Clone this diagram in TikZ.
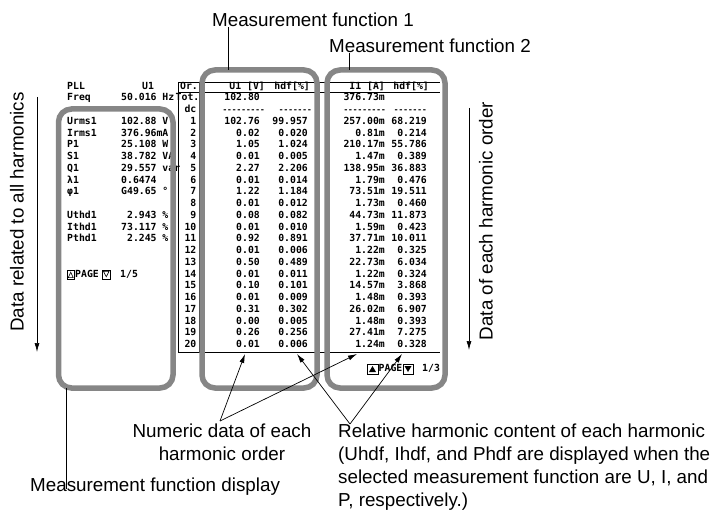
\documentclass[tikz,border=0pt]{standalone}
\usepackage{fontspec}
\setmainfont{Liberation Sans}
\newfontfamily\scrfont{DejaVu Sans Mono}
\usetikzlibrary{arrows.meta}
\definecolor{frame}{RGB}{134,134,134}

\begin{document}
\begin{tikzpicture}[x=1pt,y=-1pt,
  lbl/.style={font=\fontsize{18.8}{23}\selectfont,inner sep=0pt},
  scr/.style={font=\scrfont\bfseries\fontsize{9.8}{11}\selectfont,inner sep=0pt},
  dsh/.style={font=\scrfont\bfseries\fontsize{7.8}{9}\selectfont,inner sep=0pt},
  grp/.style={draw=frame,line width=5.5pt,rounded corners=13pt},
  grid/.style={line width=0.8pt},
  ptr/.style={-{Latex[length=9pt,width=5pt]},line width=0.7pt}]
\useasboundingbox (0,0) rectangle (717,513);

% labels on top
\node[lbl] (mf1) at (313,20) {Measurement function 1};
\node[lbl] (mf2) at (430,46) {Measurement function 2};

% left part of the screen
\node[scr,anchor=mid west] (pll) at (67,86.5) {PLL};
\node[scr,anchor=mid west] (pllsrc) at (142,86.5) {U1};
\node[scr,anchor=mid west] (freq) at (67,98.25) {Freq};
\node[scr,anchor=mid west] (freqv) at (121,98.25) {50.016 Hz};
\foreach \r/\nm/\v in {1/Urms1/102.88 V, 2/Irms1/376.96mA, 3/P1/25.108 W,
    4/S1/38.782 VA, 5/Q1/29.557 var, 6/λ1/0.6474, 7/φ1/G49.65 °,
    9/Uthd1/\phantom{0}2.943 \%, 10/Ithd1/73.117 \%, 11/Pthd1/\phantom{0}2.245 \%}{
  \pgfmathsetmacro\y{110+11.75*\r}
  \node[scr,anchor=mid west] (n\r) at (67,\y) {\nm};
  \node[scr,anchor=mid west] (v\r) at (121,\y) {\v};
}
% page keys, left
\draw[line width=0.6pt] (67,270) rectangle (74.5,279);
\draw[line width=0.6pt] (68.3,277.6) -- (70.75,272.2) -- (73.2,277.6) -- cycle;
\node[scr,anchor=mid west] (pg1) at (75,274.5) {PAGE};
\draw[line width=0.6pt] (102,270) rectangle (110.5,279);
\draw[line width=0.6pt] (103.5,271.4) -- (106.25,276.8) -- (109,271.4) -- cycle;
\node[scr,anchor=mid west] (pg1n) at (120,274.5) {1/5};

% table of harmonics
\draw[grid] (178,82) -- (440,82);
\draw[grid] (178,92.5) -- (440,92.5);
\draw[grid] (178,352) -- (440,352);
\draw[grid] (178,82) -- (178,352);
\draw[grid] (199,82) -- (199,352);
\node[scr,anchor=mid east] (or) at (198,87) {Or.};
\node[scr,anchor=mid east] (hu) at (265,87) {U1 [V]};
\node[scr,anchor=mid east] (huh) at (310,87) {hdf[\%]};
\node[scr,anchor=mid east] (hi) at (385,87) {I1 [A]};
\node[scr,anchor=mid east] (hih) at (429,87) {hdf[\%]};
\node[scr,anchor=mid east] (tot) at (199.5,98.25) {Tot.};
\node[scr,anchor=mid east] (totu) at (260,98.25) {102.80};
\node[scr,anchor=mid east] (toti) at (385,98.25) {376.73m};
\node[scr,anchor=mid east] (dc) at (196.5,110) {dc};
\node[dsh,anchor=mid east] (dcu) at (265,110) {---------};
\node[dsh,anchor=mid east] (dcuh) at (312,110) {-------};
\node[dsh,anchor=mid east] (dci) at (386,110) {---------};
\node[dsh,anchor=mid east] (dcih) at (427,110) {-------};
\foreach \n/\u/\uh/\i/\ih in {1/102.76/99.957/257.00m/68.219, 2/0.02/0.020/0.81m/0.214,
    3/1.05/1.024/210.17m/55.786, 4/0.01/0.005/1.47m/0.389, 5/2.27/2.206/138.95m/36.883,
    6/0.01/0.014/1.79m/0.476, 7/1.22/1.184/73.51m/19.511, 8/0.01/0.012/1.73m/0.460,
    9/0.08/0.082/44.73m/11.873, 10/0.01/0.010/1.59m/0.423, 11/0.92/0.891/37.71m/10.011,
    12/0.01/0.006/1.22m/0.325, 13/0.50/0.489/22.73m/6.034, 14/0.01/0.011/1.22m/0.324,
    15/0.10/0.101/14.57m/3.868, 16/0.01/0.009/1.48m/0.393, 17/0.31/0.302/26.02m/6.907,
    18/0.00/0.005/1.48m/0.393, 19/0.26/0.256/27.41m/7.275, 20/0.01/0.006/1.24m/0.328}{
  \pgfmathsetmacro\y{110+11.75*\n}
  \node[scr,anchor=mid east] (o\n) at (196.5,\y) {\n};
  \node[scr,anchor=mid east] (u\n) at (260,\y) {\u};
  \node[scr,anchor=mid east] (uh\n) at (308,\y) {\uh};
  \node[scr,anchor=mid east] (i\n) at (385,\y) {\i};
  \node[scr,anchor=mid east] (ih\n) at (427,\y) {\ih};
}
% page keys, right
\draw[line width=0.6pt] (367,364) rectangle (378,374);
\fill (369,372) -- (372.5,366) -- (376,372) -- cycle;
\node[scr,anchor=mid west] (pg2) at (378.5,369) {PAGE};
\draw[line width=0.6pt] (403,364) rectangle (413,374);
\fill (404.5,366) -- (408,372) -- (411.5,366) -- cycle;
\node[scr,anchor=mid west] (pg2n) at (422,369) {1/3};

% grey frames
\draw[grp] (58.5,109) rectangle (173,388);
\draw[grp] (202,70) rectangle (317,388);
\draw[grp] (327,70) rectangle (445,388);

% leaders to the frames
\coordinate (mf1foot) at (228,70);
\coordinate (mf2foot) at (349,70);
\draw[line width=0.8pt] (mf1.south -| mf1foot) -- (mf1foot);
\draw[line width=0.8pt] (mf2.south -| mf2foot) -- (mf2foot);

% direction of the data
\node[lbl,rotate=90] (allh) at (17,212) {Data related to all harmonics};
\coordinate (la0) at (37,97);
\coordinate (la1) at (37,352);
\draw[ptr] (la0) -- (la1);
\node[lbl,rotate=90] (eachh) at (486,221) {Data of each harmonic order};
\coordinate (ra0) at (469,108);
\coordinate (ra1) at (469,350);
\draw[ptr] (ra0) -- (ra1);

% labels at the bottom
\node[lbl,align=center,anchor=north] (numlbl) at (222,424) {Numeric data of each\\harmonic order};
\node[lbl,align=left,anchor=north west] (rellbl) at (338,424) {Relative harmonic content of each harmonic\\(Uhdf, Ihdf, and Phdf are displayed when the\\selected measurement function are U, I, and\\P, respectively.)};
\node[lbl,anchor=north west] (displbl) at (30,478) {Measurement function display};
\coordinate (dispfoot) at (66,388);
\draw[line width=0.8pt] (dispfoot) -- ([yshift=-11pt]displbl.north -| dispfoot);

% pointers
\coordinate (numapex) at (220,421);
\coordinate (relapex) at (350,424);
\coordinate (numt1) at (245,354);
\coordinate (numt2) at (357,354);
\coordinate (relt1) at (297,354);
\coordinate (relt2) at (402,354);
\draw[ptr] (numapex) -- (numt1);
\draw[ptr] (numapex) -- (numt2);
\draw[ptr] (relapex) -- (relt1);
\draw[ptr] (relapex) -- (relt2);
\end{tikzpicture}
\end{document}
